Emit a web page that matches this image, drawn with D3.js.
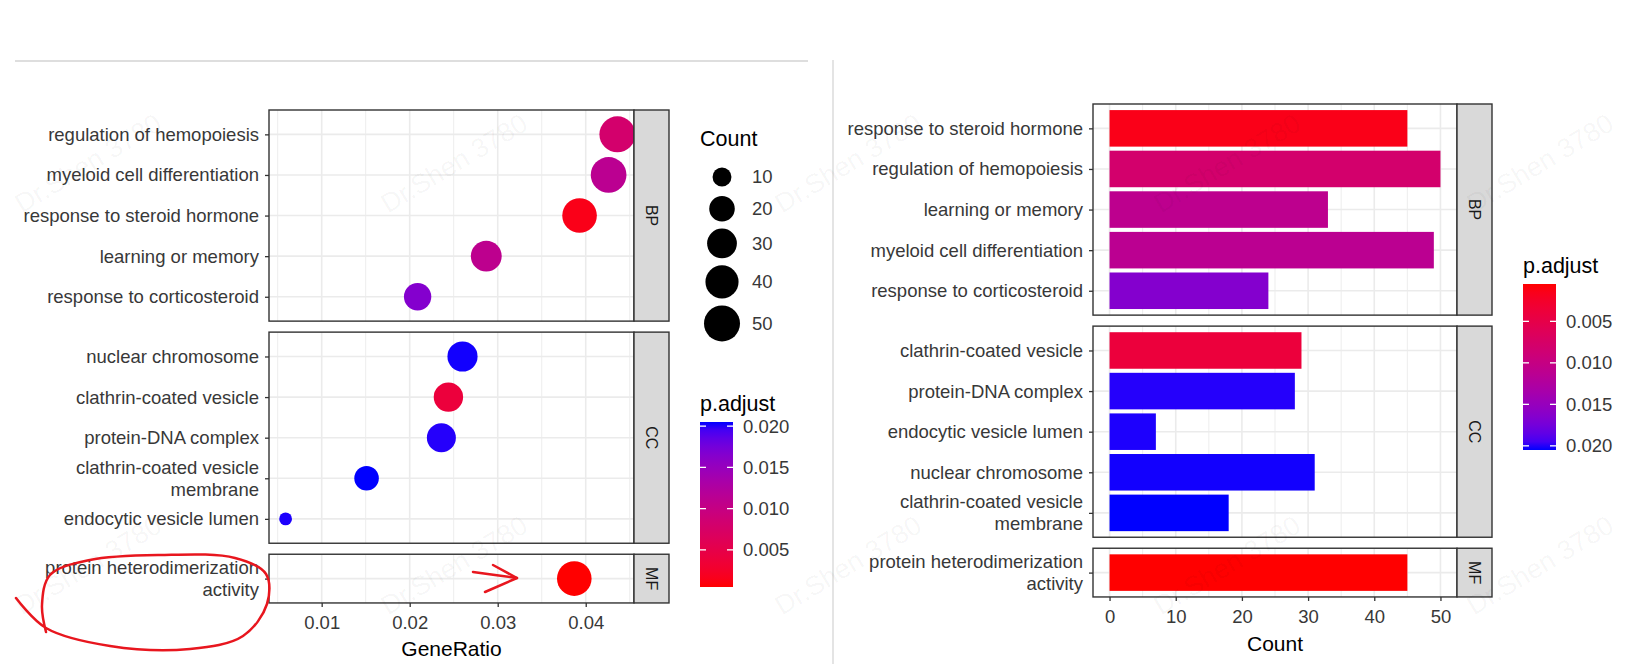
<!DOCTYPE html>
<html>
<head>
<meta charset="utf-8">
<script src="https://cdn.jsdelivr.net/npm/d3@7"></script>
<style>
  body { margin: 0; background: #fff; }
  svg { display: block; font-family: "Liberation Sans", Arial, sans-serif; }
</style>
</head>
<body>
<div id="chart"></div>
<script>
const width = 1630;
const height = 664;

// GO terms, listed in the bar chart order (p.adjust ascending within each ontology)
const terms = [
  "response to steroid hormone", "regulation of hemopoiesis", "learning or memory",
  "myeloid cell differentiation", "response to corticosteroid",
  "clathrin-coated vesicle", "protein-DNA complex", "endocytic vesicle lumen",
  "nuclear chromosome", "clathrin-coated vesicle membrane",
  "protein heterodimerization activity"
];
const ontology  = ["BP", "BP", "BP", "BP", "BP", "CC", "CC", "CC", "CC", "CC", "MF"];
const counts    = [45, 50, 33, 49, 24, 29, 28, 7, 31, 18, 45];
const geneRatio = [0.0393, 0.0436, 0.0287, 0.0426, 0.0209, 0.0244, 0.0236, 0.0059, 0.0260, 0.0151, 0.0387];
const pAdjust   = [0.0014, 0.0080, 0.0110, 0.0113, 0.0165, 0.0039, 0.0202, 0.0203, 0.0204, 0.0205, 0.0005];
const facets = ["BP", "CC", "MF"];
const ratioTicks = [0.01, 0.02, 0.03, 0.04];
const countTicks = [0, 10, 20, 30, 40, 50];
const pTicks = [0.005, 0.010, 0.015, 0.020];
const sizeBreaks = [10, 20, 30, 40, 50];
const watermark = "Dr.Shen 3780";

const data = terms.map((t, i) => ({
  term: t, ont: ontology[i], count: counts[i], ratio: geneRatio[i], p: pAdjust[i]
}));

const svg = d3.select("#chart").append("svg")
  .attr("width", width)
  .attr("height", height);

const color = d3.scaleSequential(d3.interpolateLab("red", "blue")).domain(d3.extent(pAdjust));
const sizeNorm = d3.scaleLinear().domain(d3.extent(counts));
const sizeRange = d3.scaleLinear().domain([0, 1]).range([6.4, 18]);
const radius = c => sizeRange(Math.sqrt(sizeNorm(c)));

const tickFont = "18.5px";
const textGrey = "#383838";
const gridCol = "#EBEBEB";
const borderCol = "#333";

// page decorations (screen capture edges)
svg.append("line").attr("x1", 15).attr("x2", 808).attr("y1", 61).attr("y2", 61)
  .attr("stroke", "#DEDEDE").attr("stroke-width", 2);
svg.append("line").attr("x1", 833).attr("x2", 833).attr("y1", 60).attr("y2", height)
  .attr("stroke", "#E4E4E4").attr("stroke-width", 2);

function wrapLabel(s, w = 30) {
  const words = s.split(" ");
  const lines = [];
  let cur = "";
  words.forEach(word => {
    if (cur && (cur + " " + word).length > w) { lines.push(cur); cur = word; }
    else cur = cur ? cur + " " + word : word;
  });
  lines.push(cur);
  return lines;
}

function expand(ext, mult = 0.05) {
  const pad = (ext[1] - ext[0]) * mult;
  return [ext[0] - pad, ext[1] + pad];
}

// stack the facet panels vertically, height proportional to the number of rows
function facetLayout(rows, top, step, gap) {
  let y = top;
  return facets.map(f => {
    const sub = rows.filter(d => d.ont === f);
    const h = (sub.length - 1 + 1.2) * step;
    const y0 = y;
    y += h + gap;
    const scale = d3.scalePoint().domain(sub.map(d => d.term)).range([y0, y0 + h]).padding(0.6);
    return {ont: f, rows: sub, y0, y1: y0 + h, scale};
  });
}

function minorTicks(major, domain) {
  const step = major[1] - major[0];
  const out = [];
  for (let v = major[0] - step / 2; v <= domain[1]; v += step) {
    if (v >= domain[0]) out.push(v);
  }
  return out;
}

function drawPanels(layout, x, majors, stripW, drawMarks) {
  const [x0, x1] = x.range();
  const minors = minorTicks(majors, x.domain());
  layout.forEach(p => {
    const g = svg.append("g");
    g.append("rect").attr("x", x0).attr("y", p.y0).attr("width", x1 - x0).attr("height", p.y1 - p.y0)
      .attr("fill", "#fff");
    g.selectAll(".minor").data(minors).join("line")
      .attr("x1", d => x(d)).attr("x2", d => x(d)).attr("y1", p.y0).attr("y2", p.y1)
      .attr("stroke", gridCol).attr("stroke-width", 0.9);
    g.selectAll(".major").data(majors).join("line")
      .attr("x1", d => x(d)).attr("x2", d => x(d)).attr("y1", p.y0).attr("y2", p.y1)
      .attr("stroke", gridCol).attr("stroke-width", 1.6);
    g.selectAll(".hgrid").data(p.rows).join("line")
      .attr("x1", x0).attr("x2", x1).attr("y1", d => p.scale(d.term)).attr("y2", d => p.scale(d.term))
      .attr("stroke", gridCol).attr("stroke-width", 1.6);

    drawMarks(g, p);

    g.append("rect").attr("x", x0).attr("y", p.y0).attr("width", x1 - x0).attr("height", p.y1 - p.y0)
      .attr("fill", "none").attr("stroke", borderCol).attr("stroke-width", 1.4);
    g.append("rect").attr("x", x1).attr("y", p.y0).attr("width", stripW).attr("height", p.y1 - p.y0)
      .attr("fill", "#D9D9D9").attr("stroke", borderCol).attr("stroke-width", 1.4);
    g.append("text")
      .attr("transform", `translate(${x1 + stripW / 2},${(p.y0 + p.y1) / 2}) rotate(90)`)
      .attr("text-anchor", "middle").attr("dy", "0.35em")
      .attr("fill", "#1A1A1A").style("font-size", "16px")
      .text(p.ont);

    const ax = g.append("g").attr("transform", `translate(${x0},0)`)
      .call(d3.axisLeft(p.scale).tickSize(4).tickPadding(6));
    ax.select(".domain").remove();
    ax.selectAll(".tick line").attr("stroke", borderCol).attr("stroke-width", 1.3);
    ax.selectAll(".tick text").each(function(d) {
      const lines = wrapLabel(d);
      const t = d3.select(this).attr("dy", null).text(null)
        .attr("fill", textGrey).style("font-size", tickFont).style("font-family", "Liberation Sans, Arial, sans-serif");
      lines.forEach((l, i) => {
        t.append("tspan").attr("x", -10)
          .attr("dy", i === 0 ? `${0.32 - (lines.length - 1) * 0.6}em` : "1.2em")
          .text(l);
      });
    });
  });

  const last = layout[layout.length - 1];
  const xa = svg.append("g").attr("transform", `translate(0,${last.y1})`)
    .call(d3.axisBottom(x).tickValues(majors).tickSize(4).tickPadding(9).tickFormat(d => String(d)));
  xa.select(".domain").remove();
  xa.selectAll(".tick line").attr("stroke", borderCol).attr("stroke-width", 1.3);
  xa.selectAll(".tick text").attr("fill", textGrey).style("font-size", tickFont)
    .style("font-family", "Liberation Sans, Arial, sans-serif");
}

function drawColorbar(x, y, w, h, reverse) {
  const id = reverse ? "gradR" : "gradL";
  const grad = svg.append("defs").append("linearGradient").attr("id", id)
    .attr("x1", 0).attr("x2", 0).attr("y1", reverse ? 0 : 1).attr("y2", reverse ? 1 : 0);
  const [lo, hi] = color.domain();
  d3.range(0, 1.0001, 0.05).forEach(t => {
    grad.append("stop").attr("offset", t).attr("stop-color", color(lo + t * (hi - lo)));
  });
  svg.append("rect").attr("x", x).attr("y", y).attr("width", w).attr("height", h).attr("fill", `url(#${id})`);
  const py = d3.scaleLinear().domain([lo, hi]).range(reverse ? [y, y + h] : [y + h, y]);
  const g = svg.append("g");
  pTicks.forEach(v => {
    g.append("line").attr("x1", x).attr("x2", x + 6).attr("y1", py(v)).attr("y2", py(v))
      .attr("stroke", "#fff").attr("stroke-width", 1.3);
    g.append("line").attr("x1", x + w - 6).attr("x2", x + w).attr("y1", py(v)).attr("y2", py(v))
      .attr("stroke", "#fff").attr("stroke-width", 1.3);
    g.append("text").attr("x", x + w + 10).attr("y", py(v)).attr("dy", "0.35em")
      .attr("fill", textGrey).style("font-size", tickFont).text(v.toFixed(3));
  });
  svg.append("text").attr("x", x).attr("y", y - 19).attr("dy", "0.35em")
    .attr("fill", "#000").style("font-size", "21.5px").text("p.adjust");
}

// ---------- left: dot plot ----------
function drawDotPlot() {
  const rows = data.slice().sort((a, b) => b.ratio - a.ratio);
  const layout = facetLayout(rows, 110, 40.6, 11);
  const x = d3.scaleLinear().domain(expand(d3.extent(geneRatio))).range([269, 634]);

  drawPanels(layout, x, ratioTicks, 35, (g, p) => {
    g.selectAll("circle").data(p.rows).join("circle")
      .attr("cx", d => x(d.ratio))
      .attr("cy", d => p.scale(d.term))
      .attr("r", d => radius(d.count))
      .attr("fill", d => color(d.p));
  });

  svg.append("text").attr("x", (269 + 634) / 2).attr("y", 656).attr("text-anchor", "middle")
    .attr("fill", "#000").style("font-size", "21px").text("GeneRatio");

  // size legend
  svg.append("text").attr("x", 700).attr("y", 138).attr("dy", "0.35em")
    .attr("fill", "#000").style("font-size", "21.5px").text("Count");
  let cy = 165;
  sizeBreaks.forEach(c => {
    const kh = Math.max(2 * radius(c), 24);
    const yc = cy + kh / 2;
    svg.append("circle").attr("cx", 722).attr("cy", yc).attr("r", radius(c)).attr("fill", "#000");
    svg.append("text").attr("x", 752).attr("y", yc).attr("dy", "0.35em")
      .attr("fill", textGrey).style("font-size", tickFont).text(c);
    cy += kh + 7;
  });

  drawColorbar(700, 422, 33, 165, false);
}

// ---------- right: bar plot ----------
function drawBarPlot() {
  const layout = facetLayout(data, 104, 40.6, 11);
  const x = d3.scaleLinear().domain(expand([0, d3.max(counts)])).range([1093, 1457]);
  const bh = 0.9 * 40.6;

  drawPanels(layout, x, countTicks, 35, (g, p) => {
    g.selectAll(".bar").data(p.rows).join("rect")
      .attr("x", x(0))
      .attr("y", d => p.scale(d.term) - bh / 2)
      .attr("width", d => x(d.count) - x(0))
      .attr("height", bh)
      .attr("fill", d => color(d.p));
  });

  svg.append("text").attr("x", (1093 + 1457) / 2).attr("y", 651).attr("text-anchor", "middle")
    .attr("fill", "#000").style("font-size", "21px").text("Count");

  drawColorbar(1523, 284, 33, 166, true);
}

drawDotPlot();
drawBarPlot();

// faint watermarks of the source screenshot
const wmX = [88, 454, 848, 1227, 1540];
const wmY = [163, 565];
wmY.forEach(y => wmX.forEach(x => {
  svg.append("text").attr("transform", `translate(${x},${y}) rotate(-31)`)
    .attr("text-anchor", "middle").attr("dy", "0.35em")
    .attr("fill", "#000").attr("fill-opacity", 0.045).style("font-size", "27px")
    .text(watermark);
}));

// red hand-drawn annotation
const loop = [[16, 598], [46, 628], [110, 646], [190, 649], [243, 636], [267, 604], [266, 574],
              [235, 558], [160, 555], [90, 560], [50, 575], [42, 605], [46, 632]];
const arrowShaft = [[473, 572], [495, 575], [517, 578]];
const arrowHead = [[493, 565], [517, 578], [485, 592]];
const pen = d3.line();
[[loop, d3.curveCatmullRom], [arrowShaft, d3.curveLinear], [arrowHead, d3.curveLinear]].forEach(([pts, c]) => {
  svg.append("path").attr("d", pen.curve(c)(pts))
    .attr("fill", "none").attr("stroke", "#E8161E").attr("stroke-width", 2.5)
    .attr("stroke-linecap", "round").attr("stroke-linejoin", "round");
});
</script>
</body>
</html>
